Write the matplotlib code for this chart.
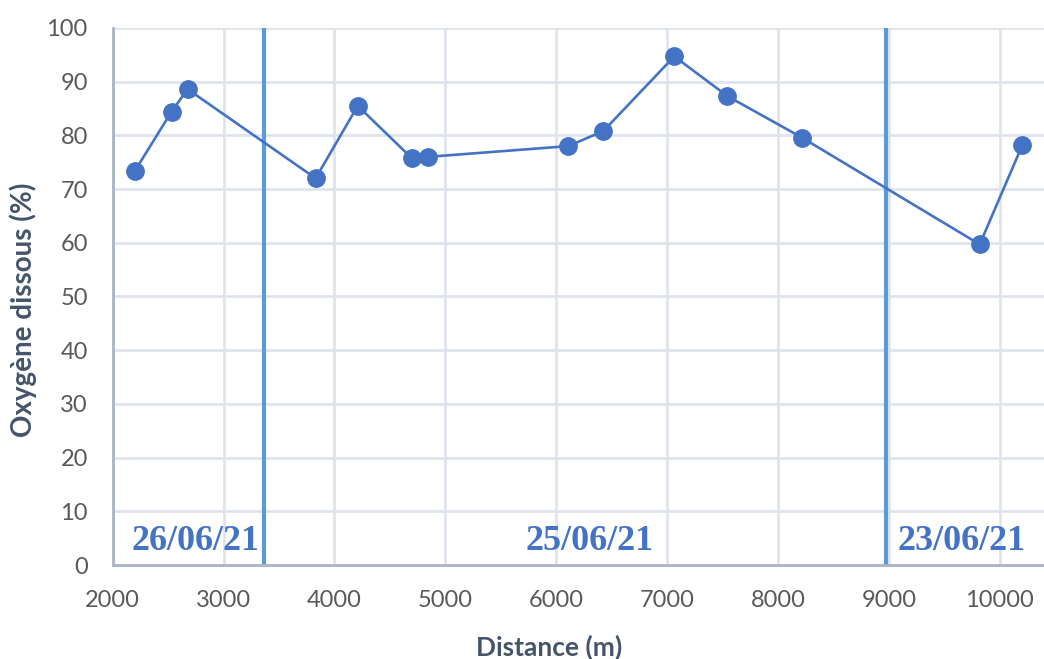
import matplotlib
matplotlib.use("Agg")
import matplotlib.pyplot as plt

distance = [2200, 2530, 2675, 3830, 4210, 4700, 4845, 6110, 6425, 7065, 7545, 8215, 9820, 10205]
oxygen = [73.4, 84.4, 88.6, 72.0, 85.5, 75.7, 76.0, 78.0, 80.8, 94.7, 87.3, 79.6, 59.7, 78.2]
boundaries = [3360, 8978]
dates = ["26/06/21", "25/06/21", "23/06/21"]
date_x = [2165, 5720, 9075]
xticks = [2000, 3000, 4000, 5000, 6000, 7000, 8000, 9000, 10000]
yticks = list(range(0, 101, 10))

fig = plt.figure(figsize=(10.44, 6.59), dpi=100)
ax = fig.add_axes([0.108, 0.1426, 0.892, 0.815])

ax.set_xlim(2000, 10400)
ax.set_ylim(0, 100)
ax.set_xticks(xticks)
ax.set_yticks(yticks)
ax.grid(True, color="#dfe4ec", linewidth=2.0)
ax.set_axisbelow(True)
for s in ["top", "right"]:
    ax.spines[s].set_visible(False)
for s in ["left", "bottom"]:
    ax.spines[s].set_color("#aab4c4")
    ax.spines[s].set_linewidth(2.0)
ax.tick_params(length=0, labelsize=17, labelcolor="#595959", pad=18)
for lab in ax.get_xticklabels() + ax.get_yticklabels():
    lab.set_fontfamily("Lato")

for b in boundaries:
    ax.plot([b, b], [0, 100], color="#5b9bd5", linewidth=3.0, zorder=2, clip_on=False,
            solid_capstyle="butt")

ax.plot(distance, oxygen, color="#4472c4", linewidth=1.9, marker="o", markersize=12.5,
        markerfacecolor="#4472c4", markeredgecolor="#4472c4", zorder=3)

for d, x in zip(dates, date_x):
    ax.text(x, 4.3, d, family="Liberation Serif", fontweight="bold", fontsize=26,
            color="#4472c4", ha="left", va="center", zorder=4)

ax.set_xlabel("Distance (m)", family="Lato", fontweight="bold", fontsize=19,
              color="#44546a", va="center")
ax.set_ylabel("Oxygène dissous (%)", family="Lato", fontweight="bold", fontsize=20,
              color="#44546a", va="center")
ax.xaxis.set_label_coords(0.4686, -0.1527)
ax.yaxis.set_label_coords(-0.0963, 0.475)

fig.savefig("out.png", dpi=100)
